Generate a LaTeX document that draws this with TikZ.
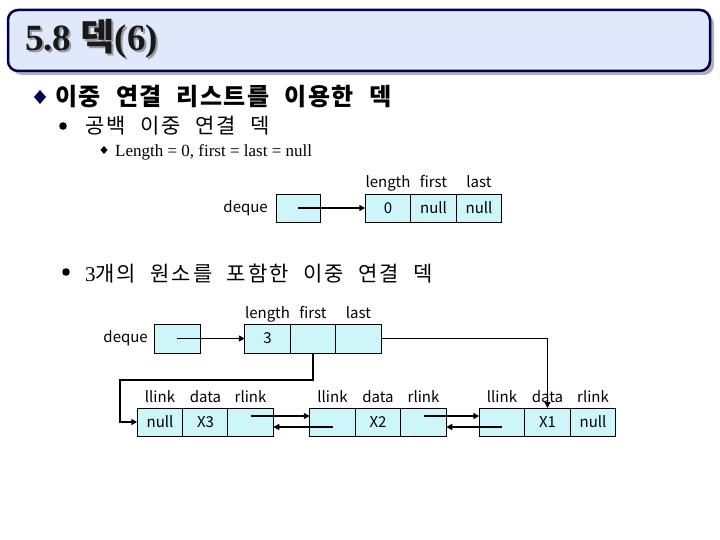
\documentclass[tikz,border=0pt]{standalone}
\usepackage{fontspec}
\setmainfont{Liberation Serif}
\newfontfamily\kr{Noto Sans CJK KR}
\newfontfamily\krhead[WordSpace=2.2, LetterSpace=6]{Noto Sans CJK KR}
\newfontfamily\krtext[WordSpace=2.2, LetterSpace=9]{Noto Sans CJK KR}
\usetikzlibrary{arrows.meta}
\definecolor{cellblue}{RGB}{204,246,250}
\definecolor{titlefill}{RGB}{224,232,252}
\definecolor{navy}{RGB}{0,0,80}
\newcommand{\shadowed}[1]{\rlap{\raisebox{-2pt}[0pt][0pt]{\kern2pt\textcolor{black!40}{#1}}}#1}
\begin{document}
\begin{tikzpicture}[
            x=1pt,
            y=-1pt,
            cell/.style={draw, line width=0.6pt, fill=cellblue, minimum width=45.5pt, minimum height=28pt, inner sep=0pt, outer sep=0pt, font=\kr\fontsize{15}{15}\selectfont},
            field/.style={anchor=base, inner sep=0pt, font=\kr\fontsize{15}{15}\selectfont},
            link/.style={line width=1.7pt, -{Triangle[length=6pt,width=6pt]}},
            bulletline/.style={anchor=base west, inner sep=0pt}
        ]
        \useasboundingbox (0,0) rectangle (720,540);
        \fill[black!30, rounded corners=10pt] (12,14) rectangle (714,75);
        \draw[navy, line width=2.5pt, fill=titlefill, rounded corners=10pt] (8,10) rectangle (710,71);
        \node[bulletline, text=black!90, font=\fontsize{37}{37}\selectfont\bfseries] (title) at (25,51) {\shadowed{5.8 {\kr 덱}(6)}};
        \fill[navy] (40,90) -- (46,97) -- (40,104) -- (34,97) -- cycle;
        \node[bulletline, font=\krhead\fontsize{24}{24}\selectfont\bfseries] (head) at (55,106) {이중 연결 리스트를 이용한 덱};
        \fill (63,126) circle (3.8pt);
        \node[bulletline, font=\krtext\fontsize{21}{21}\selectfont] (empty) at (85,134) {공백 이중 연결 덱};
        \fill (104,146) -- (107.5,150) -- (104,154) -- (100.5,150) -- cycle;
        \node[bulletline, font=\fontsize{17}{17}\selectfont] (cond) at (115,157) {Length = 0, first = last = null};
        \fill (66,272) circle (3.8pt);
        \node[bulletline, font=\krtext\fontsize{21}{21}\selectfont] (three) at (85,281) {{\rmfamily 3}개의 원소를 포함한 이중 연결 덱};

        \node[field, anchor=east] at (268,208) {deque};
        \node[cell, minimum width=44pt] (dq0) at (298,208) {};
        \foreach \name/\cx/\val/\lab in {
                e-len/388/0/length,
                e-first/433.5/null/first,
                e-last/479/null/last
            } {
                \node[cell] (\name) at (\cx,208) {\val};
                \node[field] at (\cx,188) {\lab};
            }
        \draw[link] (dq0.center) -- (e-len.west);

        \node[field, anchor=east] at (148,338.5) {deque};
        \node[cell, minimum width=46pt, minimum height=29pt] (dq) at (177,338.5) {};
        \foreach \name/\cx/\val/\lab in {
                q-len/267.5/3/length,
                q-first/313/{}/first,
                q-last/358.5/{}/last
            } {
                \node[cell, minimum height=29pt] (\name) at (\cx,338.5) {\val};
                \node[field] at (\cx,318) {\lab};
            }
        \draw[link] (dq.center) -- (q-len.west);

        \foreach \name/\cx/\val/\lab in {
                n1-l/160/null/llink,
                n1-d/205.5/X3/data,
                n1-r/250.5/{}/rlink,
                n2-l/332.5/{}/llink,
                n2-d/378/X2/data,
                n2-r/423.5/{}/rlink,
                n3-l/502/{}/llink,
                n3-d/547.5/X1/data,
                n3-r/593/null/rlink
            } {
                \node[cell] (\name) at (\cx,422) {\val};
                \node[field] at (\cx,402) {\lab};
            }
        \coordinate (fbend) at (120,380);
        \draw[link] (q-first.south) |- (fbend) |- (n1-l.west);
        \draw[link] (q-last.east) -| (n3-d.north);
        \draw[link] ([yshift=6pt]n1-r.center) -- ([yshift=6pt]n2-l.west);
        \draw[link] ([yshift=-5pt]n2-l.center) -- ([yshift=-5pt]n1-r.east);
        \draw[link] ([yshift=6pt]n2-r.center) -- ([yshift=6pt]n3-l.west);
        \draw[link] ([yshift=-5pt]n3-l.center) -- ([yshift=-5pt]n2-r.east);
    \end{tikzpicture}
\end{document}
